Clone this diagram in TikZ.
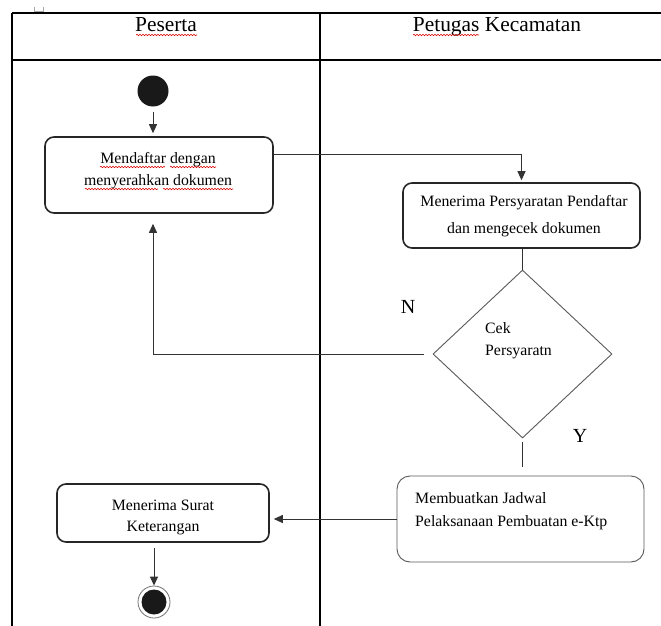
\documentclass[tikz,border=0pt]{standalone}
\usepackage{fontspec}
\setmainfont{Liberation Serif}
\usetikzlibrary{arrows.meta,shapes.geometric,decorations.pathmorphing,calc}
\begin{document}
\begin{tikzpicture}[x=1pt,y=-1pt,
  actbox/.style={draw=black!85, line width=1.6pt, rounded corners=9pt, inner sep=0pt},
  thinbox/.style={draw=black!65, line width=0.9pt, rounded corners=13pt, inner sep=0pt},
  body/.style={font=\fontsize{15.8}{22}\selectfont, align=center, inner sep=0pt},
  flow/.style={draw=black!80, line width=1pt},
  tip/.style={-{Triangle[length=9pt,width=8pt]}},
  lane/.style={draw=black, line width=1.3pt},
  spell/.style={draw=red!85!black, line width=0.6pt, decorate, decoration={snake, segment length=3pt, amplitude=0.7pt}},
  lbl/.style={font=\fontsize{20}{24}\selectfont, inner sep=0pt},
]
\useasboundingbox (0,0) rectangle (661,626);
\fill[white] (0,0) rectangle (661,626);

% swimlanes
\draw[lane] (12,13) -- (661,13);
\draw[lane] (12,60) -- (661,60);
\draw[lane] (12,13) -- (12,626);
\draw[lane] (320,13) -- (320,626);
\draw[black!35, line width=0.6pt] (34,7) -- (34,11) -- (43,11) -- (43,7);

\node[font=\fontsize{21.4}{24}\selectfont, anchor=base, inner sep=0pt] (h1) at (166,32) {Peserta};
\node[font=\fontsize{21.4}{24}\selectfont, anchor=base, inner sep=0pt] (h2) at (497,32) {Petugas Kecamatan};

% nodes
\node[circle, fill=black!90, minimum size=31pt, inner sep=0pt] (start) at (153,91) {};
\node[actbox, minimum width=228pt, minimum height=76pt] (b1) at (159,175) {};
\node[body] (b1t) at (158,171) {Mendaftar dengan\\menyerahkan dokumen};

\node[actbox, minimum width=237pt, minimum height=65pt] (b2) at (521.5,215.5) {};
\node[body, font=\fontsize{15.8}{27}\selectfont] (b2t) at (524,216.5) {Menerima Persyaratan Pendaftar\\dan mengecek dokumen};

\node[diamond, draw=black!65, line width=0.9pt, minimum width=179pt, minimum height=168pt, inner sep=0pt] (dia) at (522.5,354) {};
\node[body, align=left, anchor=west, font=\fontsize{15.8}{22}\selectfont] (diat) at (485,341) {Cek\\Persyaratn};

\node[thinbox, minimum width=247pt, minimum height=86pt] (b3) at (520.5,519) {};
\node[body, align=left, anchor=west, font=\fontsize{15.8}{23}\selectfont] (b3t) at (415,511.5) {Membuatkan Jadwal\\Pelaksanaan Pembuatan e-Ktp};

\node[actbox, minimum width=212pt, minimum height=58pt] (b4) at (163,513) {};
\node[body, font=\fontsize{15.8}{21}\selectfont] (b4t) at (163,517.5) {Menerima Surat\\Keterangan};

\node[circle, draw=black!55, line width=0.8pt, fill=white, minimum size=32pt, inner sep=0pt] (end) at (154,602) {};
\node[circle, fill=black!90, minimum size=25pt, inner sep=0pt] (endin) at (154,602) {};

\node[lbl] (nlab) at (408,307) {N};
\node[lbl] (ylab) at (580,436) {Y};

% connectors
\draw[flow, tip, shorten <=5pt, shorten >=3pt] (start.south) -- (start.south |- b1.north);
\draw[flow, tip, shorten >=2pt] ($(b1.north east)!0.237!(b1.south east)$) -| (b2.north);
\draw[flow] (b2.south -| dia.north) -- (dia.north);
\draw[flow, tip, shorten <=9pt, shorten >=10pt] (dia.west) -| (b1.south -| start);
\draw[flow, shorten <=4pt, shorten >=9pt] (dia.south) -- (dia.south |- b3.north);
\draw[flow, tip, shorten >=4pt] (b3.west) -- (b3.west -| b4.east);
\draw[flow, tip, shorten <=5pt] (b4.south -| end) -- (end.north);

% spelling marks
\draw[spell] (136,35) -- (197,35);
\draw[spell] (413,35) -- (479,35);
\draw[spell] (100,167) -- (165,167);
\draw[spell] (170,167) -- (216,167);
\draw[spell] (85,189) -- (158,189);
\draw[spell] (163,189) -- (233,189);
\end{tikzpicture}
\end{document}
